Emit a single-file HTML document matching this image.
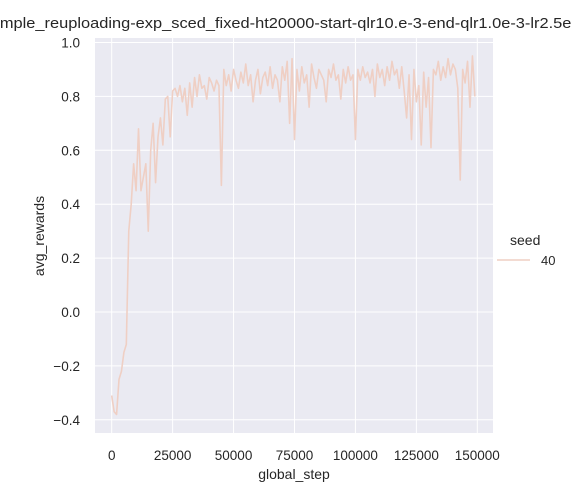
<!DOCTYPE html>
<html><head><meta charset="utf-8"><style>
html,body{margin:0;padding:0;background:#fff;width:572px;height:500px;overflow:hidden}
svg text{font-family:"Liberation Sans",sans-serif;fill:#262626}
</style></head><body>
<svg id="chart" width="572" height="500" viewBox="0 0 572 500" xmlns="http://www.w3.org/2000/svg">
<text x="-12" y="28" font-size="15" textLength="598" lengthAdjust="spacingAndGlyphs">simple_reuploading-exp_sced_fixed-ht20000-start-qlr10.e-3-end-qlr1.0e-3-lr2.5e-3</text>
<rect x="95" y="38" width="398" height="395" fill="#eaeaf2"/>
<g id="grid"></g>
<g id="ticks"></g>
<path id="line" fill="none" stroke="#efcfc4" stroke-width="1.6" stroke-linejoin="round"/>
<text x="294" y="479" font-size="14" text-anchor="middle">global_step</text>
<text x="0" y="0" font-size="14" text-anchor="middle" transform="translate(44,236) rotate(-90)">avg_rewards</text>
<g>
<text x="510" y="245" font-size="14">seed</text>
<line x1="497" y1="260" x2="530" y2="260" stroke="#efcfc4" stroke-width="1.6"/>
<text x="541" y="265" font-size="13">40</text>
</g>
</svg>
<script>
const xTicks=[0,25000,50000,75000,100000,125000,150000];
const yTicks=[-0.4,-0.2,0.0,0.2,0.4,0.6,0.8,1.0];
const yTickLabels=["\u22120.4","\u22120.2","0.0","0.2","0.4","0.6","0.8","1.0"];
const stepSize=1000;
const rewards=[-0.31,-0.37,-0.38,-0.25,-0.22,-0.15,-0.12,0.3,0.4,0.55,
0.45,0.68,0.45,0.5,0.55,0.3,0.6,0.7,0.48,0.65,
0.72,0.62,0.79,0.8,0.65,0.82,0.83,0.8,0.84,0.78,
0.83,0.73,0.85,0.76,0.87,0.8,0.88,0.83,0.84,0.79,
0.87,0.85,0.82,0.86,0.84,0.47,0.9,0.84,0.88,0.82,
0.9,0.86,0.83,0.89,0.85,0.92,0.84,0.88,0.78,0.86,
0.9,0.81,0.87,0.89,0.84,0.91,0.83,0.88,0.86,0.78,
0.91,0.86,0.93,0.7,0.94,0.64,0.9,0.82,0.91,0.85,
0.88,0.76,0.92,0.87,0.83,0.9,0.88,0.86,0.78,0.9,
0.87,0.92,0.86,0.88,0.79,0.9,0.85,0.91,0.86,0.88,
0.64,0.9,0.86,0.91,0.87,0.89,0.85,0.9,0.8,0.92,
0.87,0.9,0.84,0.91,0.86,0.93,0.88,0.9,0.83,0.91,
0.82,0.72,0.88,0.64,0.9,0.78,0.84,0.62,0.89,0.76,
0.87,0.61,0.9,0.88,0.93,0.86,0.91,0.87,0.94,0.88,
0.92,0.9,0.83,0.49,0.9,0.85,0.93,0.76,0.95,0.8];
const X=v=>111.7+v*(477.3-111.7)/150000;
const Y=v=>42.5+(1.0-v)*269.5;
const ns="http://www.w3.org/2000/svg";
const grid=document.getElementById('grid'),ticks=document.getElementById('ticks');
xTicks.forEach(t=>{
 const l=document.createElementNS(ns,'line');
 
 
 l.setAttribute('x1',X(t));l.setAttribute('x2',X(t));l.setAttribute('y1',38);l.setAttribute('y2',433);
 l.setAttribute('stroke','#fff');l.setAttribute('stroke-width','1');grid.appendChild(l);
 const tx=document.createElementNS(ns,'text');
 
 
 tx.setAttribute('x',X(t));tx.setAttribute('y',460);tx.setAttribute('font-size','13.5');tx.setAttribute('text-anchor','middle');
 tx.textContent=String(t);ticks.appendChild(tx);
});
yTicks.forEach((t,i)=>{
 const l=document.createElementNS(ns,'line');
 
 
 l.setAttribute('x1',95);l.setAttribute('x2',493);l.setAttribute('y1',Y(t));l.setAttribute('y2',Y(t));
 l.setAttribute('stroke','#fff');l.setAttribute('stroke-width','1');grid.appendChild(l);
 const tx=document.createElementNS(ns,'text');
 
 
 tx.setAttribute('x',80);tx.setAttribute('y',Y(t)+5);tx.setAttribute('font-size','13.5');tx.setAttribute('text-anchor','end');
 tx.textContent=yTickLabels[i];ticks.appendChild(tx);
});
document.getElementById('line').setAttribute('d',rewards.map((v,i)=>(i?'L':'M')+X(i*stepSize).toFixed(2)+','+Y(v).toFixed(2)).join(''));
</script>
</body></html>
